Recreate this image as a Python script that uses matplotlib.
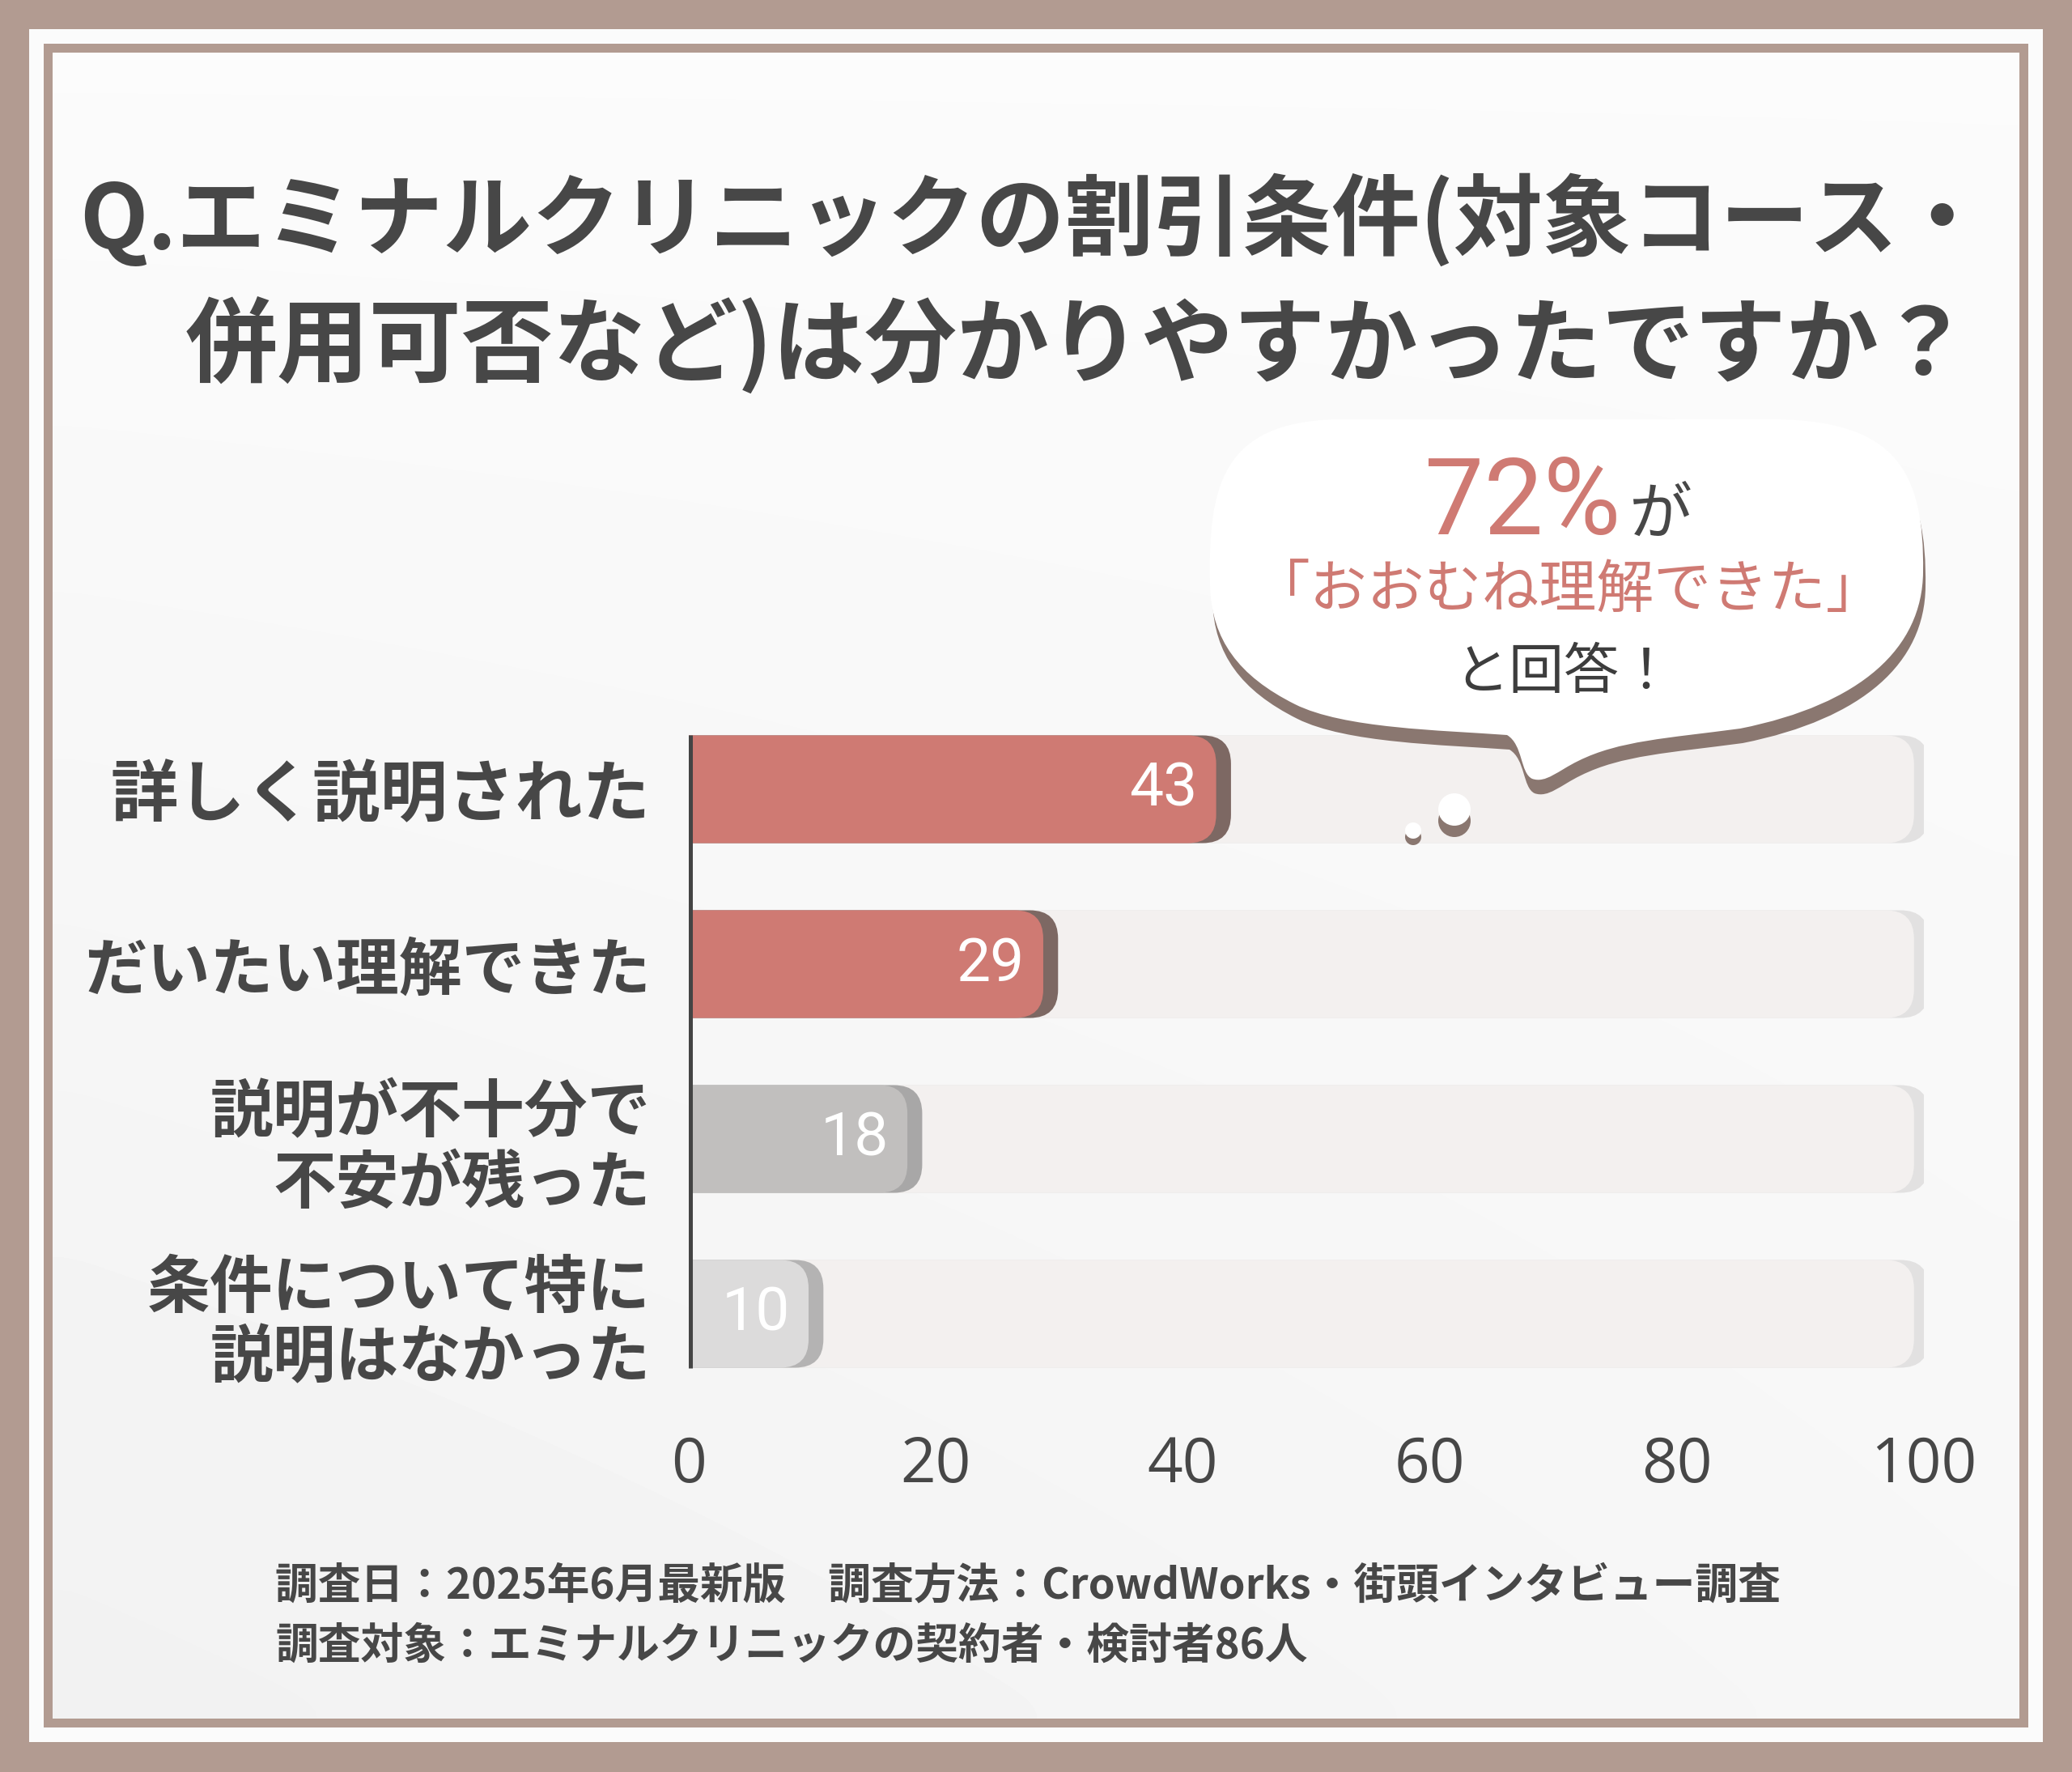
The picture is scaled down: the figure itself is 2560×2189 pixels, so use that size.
import matplotlib
matplotlib.use("Agg")
import matplotlib.pyplot as plt
import numpy as np
from matplotlib.patches import Rectangle, FancyBboxPatch, PathPatch, Circle
from matplotlib.path import Path

plt.rcParams['font.family'] = ['Noto Sans CJK JP', 'DejaVu Sans']

# データ
categories = ['詳しく説明された', 'だいたい理解できた', '説明が不十分で\n不安が残った', '条件について特に\n説明はなかった']
values = [43, 29, 18, 10]
x_ticks = [0, 20, 40, 60, 80, 100]
title_lines = ['Q.エミナルクリニックの割引条件(対象コース・', '併用可否など)は分かりやすかったですか？']
footer_lines = ['調査日：2025年6月最新版　調査方法：CrowdWorks・街頭インタビュー調査',
                '調査対象：エミナルクリニックの契約者・検討者86人']
highlight_pct = '72%'

# 色
brown = '#b29b91'
dark = '#474747'
salmon = '#cf7a73'
bar_colors = ['#cf7a73', '#cf7a73', '#c1bfbe', '#dcdbdb']
shadow_colors = ['#7d6863', '#7d6863', '#a8a7a7', '#b4b3b3']
track_color = '#f3f0ef'
track_shadow = '#e2e1e1'
bubble_shadow = '#8a7770'

W, H = 2560, 2189
fig = plt.figure(figsize=(W / 100, H / 100), dpi=100)
fig.patch.set_facecolor(brown)

# 背景と枠
bg = fig.add_axes([0, 0, 1, 1])
bg.set_xlim(0, W)
bg.set_ylim(H, 0)
bg.axis('off')
bg.add_patch(Rectangle((36, 36), 2524 - 36, 2152 - 36, color='#fbfbfb', lw=0))
bg.add_patch(Rectangle((54, 54), 2506 - 54, 2134 - 54, color=brown, lw=0))
gy, gx = np.mgrid[0:1:60j, 0:1:60j]
grad = 0.985 - 0.035 * gy * (1.1 - 0.6 * gx)
bg.imshow(grad, cmap='gray', vmin=0, vmax=1, extent=(65, 2495, 2123, 65),
          aspect='auto', interpolation='bicubic', zorder=1)

# タイトル
bg.text(98, 273, title_lines[0], fontsize=79, weight='bold', color=dark, ha='left', va='center')
bg.text(229, 428, title_lines[1], fontsize=82, weight='bold', color=dark, ha='left', va='center')

# フッター
bg.text(340, 1959, footer_lines[0], fontsize=38, weight='bold', color=dark, ha='left', va='center')
bg.text(340, 2033, footer_lines[1], fontsize=38, weight='bold', color=dark, ha='left', va='center')

# 棒グラフ
ax = fig.add_axes([851 / W, 1 - 1731 / H, 1526 / W, 864 / H])
ax.set_xlim(0, 100)
ax.set_ylim(3.5, -0.5)
ax.patch.set_alpha(0)
for s in ax.spines.values():
    s.set_visible(False)

bar_h = 0.616
asp = (1526 / 100) / 216.0
rad = 2.3

def rbar(x_end, y, color, z):
    p = FancyBboxPatch((-6, y - bar_h / 2), x_end + 6, bar_h,
                       boxstyle='round,pad=0,rounding_size=%f' % rad,
                       mutation_aspect=asp, fc=color, ec='none', zorder=z)
    ax.add_patch(p)

for i, v in enumerate(values):
    rbar(100.4, i, track_shadow, 1)
    rbar(99.2, i, track_color, 2)
    rbar(v + 0.9, i, shadow_colors[i], 3)
    rbar(v - 0.3, i, bar_colors[i], 4)
    ax.text(v - 1.8, i, str(v), ha='right', va='center', color='white',
            fontsize=54, family='Roboto', zorder=6)

ax.vlines(0, -bar_h / 2, len(values) - 1 + bar_h / 2, color='#444444', lw=6.5, zorder=5)

ax.set_yticks(range(len(categories)))
ax.set_yticklabels(categories, fontsize=56, weight='bold', color=dark,
                   ha='right', multialignment='right', linespacing=1.12)
ax.get_yticklabels()[0].set_fontsize(60)
ax.set_xticks(x_ticks)
ax.set_xticklabels([str(t) for t in x_ticks], fontsize=55, family='Open Sans', color=dark)
ax.tick_params(axis='both', length=0)
ax.tick_params(axis='y', pad=34)
ax.tick_params(axis='x', pad=30)

# 吹き出し
fg = fig.add_axes([0, 0, 1, 1])
fg.set_xlim(0, W)
fg.set_ylim(H, 0)
fg.axis('off')
fg.patch.set_alpha(0)

verts = [(1495, 724),
         (1492, 600), (1510, 522), (1650, 518),
         (2200, 518),
         (2340, 522), (2378, 580), (2376, 707),
         (2375, 800), (2300, 870), (2150, 900),
         (2060, 912), (2000, 915), (1950, 940),
         (1925, 952), (1910, 968), (1893, 962),
         (1878, 955), (1882, 920), (1862, 908),
         (1780, 902), (1660, 900), (1600, 870),
         (1530, 835), (1497, 790), (1495, 724),
         (1495, 724)]
codes = [Path.MOVETO] + [Path.CURVE4] * 3 + [Path.LINETO] + [Path.CURVE4] * 21 + [Path.CLOSEPOLY]
bubble = Path(verts, codes)
shadow = Path([(x + 3, y + 18) for x, y in verts], codes)
fg.add_patch(PathPatch(shadow, fc=bubble_shadow, ec='none', zorder=1))
fg.add_patch(PathPatch(bubble, fc='white', ec='none', zorder=2))
fg.add_patch(Circle((1797, 1014), 20, fc=bubble_shadow, ec='none', zorder=1))
fg.add_patch(Circle((1797, 1000), 20, fc='white', ec='none', zorder=2))
fg.add_patch(Circle((1746, 1034), 10, fc=bubble_shadow, ec='none', zorder=1))
fg.add_patch(Circle((1746, 1026), 10, fc='white', ec='none', zorder=2))

fg.text(2002, 660, highlight_pct, fontsize=94, family='Roboto', color=salmon,
        ha='right', va='baseline', zorder=3)
fg.text(2012, 660, 'が', fontsize=56, color=dark, ha='left', va='baseline', zorder=3)
fg.text(1938, 730, '「おおむね理解できた」', fontsize=51, color=salmon, ha='center', va='center', zorder=3)
fg.text(1932, 832, 'と回答！', fontsize=49, color='#3d3d3d', ha='center', va='center', zorder=3)

fig.savefig('out.png', dpi=100, facecolor=fig.get_facecolor())
